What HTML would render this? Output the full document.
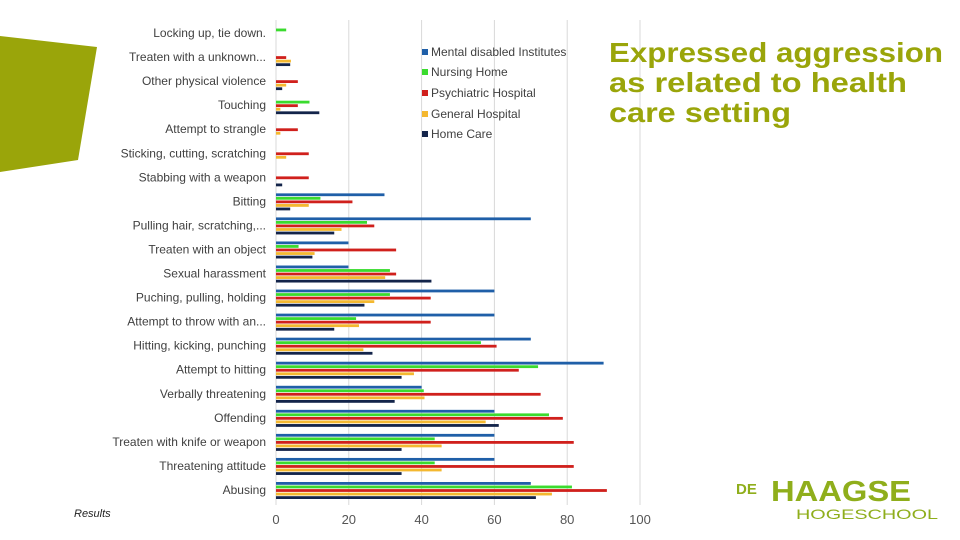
<!DOCTYPE html>
<html><head><meta charset="utf-8"><style>
html,body{margin:0;padding:0;background:#fff;}
svg{display:block;font-family:"Liberation Sans",sans-serif;}
</style></head><body>
<svg id="chart" width="960" height="540" viewBox="0 0 960 540">
<polygon points="0,36 97,47 78,160 0,172" fill="#9aa50a"/>
<g id="grid"></g>
<g id="bars"></g>
<g id="labels"></g>
<g id="ticks"></g>
<g font-size="12" fill="#404040">
  <g><rect x="422" y="49" width="6" height="6" fill="#1f5fa8"/><text x="431" y="56">Mental disabled Institutes</text></g>
  <g><rect x="422" y="69" width="6" height="6" fill="#3adb2e"/><text x="431" y="76">Nursing Home</text></g>
  <g><rect x="422" y="90" width="6" height="6" fill="#d0201c"/><text x="431" y="97">Psychiatric Hospital</text></g>
  <g><rect x="422" y="111" width="6" height="6" fill="#f4b830"/><text x="431" y="118">General Hospital</text></g>
  <g><rect x="422" y="131" width="6" height="6" fill="#13244a"/><text x="431" y="138">Home Care</text></g>
</g>
<g fill="#9aa50a" font-weight="bold" font-size="28">
  <text x="609" y="62" textLength="334" lengthAdjust="spacingAndGlyphs">Expressed aggression</text>
  <text x="609" y="92" textLength="298" lengthAdjust="spacingAndGlyphs">as related to health</text>
  <text x="609" y="122" textLength="182" lengthAdjust="spacingAndGlyphs">care setting</text>
</g>
<text x="74" y="517" font-size="11" font-style="italic" fill="#222">Results</text>
<g fill="#8fae1b">
  <text x="736" y="494" font-size="15" font-weight="bold">DE</text>
  <text x="771" y="501" font-size="29" font-weight="bold" textLength="140" lengthAdjust="spacingAndGlyphs">HAAGSE</text>
  <text x="796" y="519" font-size="14" textLength="142" lengthAdjust="spacingAndGlyphs">HOGESCHOOL</text>
</g>
</svg>
<script>
const categories=["Locking up, tie down.","Treaten with a unknown...","Other physical violence","Touching","Attempt to strangle","Sticking, cutting, scratching","Stabbing with a weapon","Bitting","Pulling hair, scratching,...","Treaten with an object","Sexual harassment","Puching, pulling, holding","Attempt to throw with an...","Hitting, kicking, punching","Attempt to hitting","Verbally threatening","Offending","Treaten with knife or weapon","Threatening attitude","Abusing"];
const mentalDisabled=[0,0,0,0,0,0,0,29.8,70,19.9,19.9,60,60,70,90,40,60,60,60,70];
const nursingHome=[2.8,0,0,9.2,0,0,0,12.2,25,6.2,31.3,31.3,22,56.3,72,40.6,75,43.6,43.6,81.3];
const psychiatric=[0,2.8,6,6,6,9,9,21,27,33,33,42.5,42.5,60.6,66.7,72.7,78.8,81.8,81.8,90.9];
const generalHospital=[0,4.1,2.8,1.2,1.2,2.8,0,9,18,10.6,30,27,22.8,24,37.9,40.8,57.6,45.5,45.5,75.8];
const homeCare=[0,3.9,1.7,11.9,0,0,1.7,3.9,16,10,42.7,24.3,16,26.5,34.5,32.6,61.2,34.5,34.5,71.4];
const tickValues=[0,20,40,60,80,100];
const seriesNames=["mental-disabled","nursing-home","psychiatric-hospital","general-hospital","home-care"];
const NS="http://www.w3.org/2000/svg";
const x0=276,x1=640,vmax=100;
const xs=v=>x0+(v/vmax)*(x1-x0);
const yTop=33,yBot=490;
const yRow=i=>yTop+i*(yBot-yTop)/(categories.length-1);
const series=[mentalDisabled,nursingHome,psychiatric,generalHospital,homeCare];
const colors=["#1f5fa8","#3adb2e","#d0201c","#f4b830","#13244a"];
function mk(t,a,p){const e=document.createElementNS(NS,t);for(const k in a)e.setAttribute(k,a[k]);p.appendChild(e);return e;}
const grid=document.getElementById('grid');
tickValues.forEach(v=>{
  if(v===0)return;
  const l=mk('line',{x1:xs(v),x2:xs(v),y1:20,y2:505,stroke:'#d9d9d9','stroke-width':1},grid);
  
  
});
const axis=mk('line',{x1:x0,x2:x0,y1:20,y2:505,stroke:'#d9d9d9','stroke-width':1},grid);


const bars=document.getElementById('bars');
categories.forEach((c,i)=>{
  series.forEach((s,j)=>{
    const v=s[i];
    if(!v)return;
    const r=mk('rect',{x:x0,y:yRow(i)-8+j*3.55,width:xs(v)-x0,height:2.8,fill:colors[j]},bars);
    
    
  });
});
const labels=document.getElementById('labels');
categories.forEach((c,i)=>{
  const t=mk('text',{x:266,y:yRow(i)+4,'text-anchor':'end','font-size':12,fill:'#404040'},labels);
  t.textContent=c;
  
  
});
const ticks=document.getElementById('ticks');
tickValues.forEach(v=>{
  const t=mk('text',{x:xs(v),y:524,'text-anchor':'middle','font-size':13,fill:'#555'},ticks);
  t.textContent=v;
  
  
});
</script>
</body></html>
